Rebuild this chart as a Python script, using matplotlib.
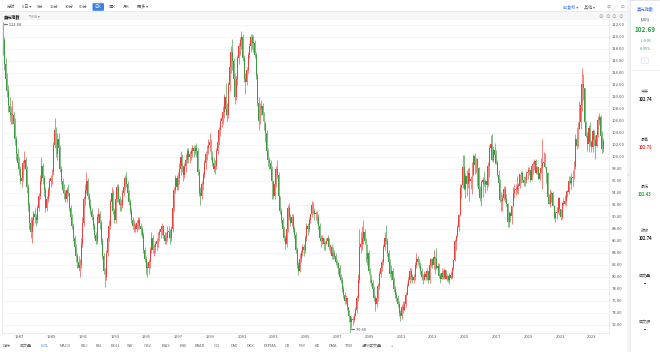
"""US dollar index, monthly candles 1986-2024, styled like a quote page"""

import numpy as np
import matplotlib.pyplot as plt
from matplotlib.patches import Rectangle, FancyBboxPatch

plt.rcParams['font.family'] = ['Noto Sans CJK SC', 'DejaVu Sans']

# Monthly candles. Month index counts from Jan 1986; the first candle is Apr 1986.
first_month = 3
first_open = 121.0

closes = [
    119.5, 115.5, 113, 111, 108.5, 107.5, 107, 107, 105.5,                   # 1986 (Apr-Dec)
    103, 100.5, 99, 98, 96, 96.5, 99, 99.5, 98, 95, 92, 89,                   # 1987
    87.5, 89.5, 90.5, 90, 89.5, 91.5, 93.5, 96, 98.5, 96.5, 94.5, 91.5,       # 1988
    93, 94.5, 96, 96.5, 97.5, 102, 104.5, 100.5, 103, 101.5, 98, 96,          # 1989
    94.5, 94, 93, 94.5, 94, 91.5, 90, 88.5, 86.5, 85, 83.5, 82.5,             # 1990
    81.5, 82, 85.5, 89, 93, 94.5, 96, 93.5, 92, 91, 90, 88.5,                 # 1991
    87, 86, 90, 90.5, 89, 86, 83.5, 81, 80, 84, 86.5, 88.5,                   # 1992
    92.5, 94, 91, 89.5, 93, 95, 93, 92, 92, 94, 95, 96.5,                     # 1993
    95.5, 94, 92.5, 91, 89.5, 88.5, 88.5, 88, 89, 89.5, 88.5, 88,             # 1994
    87, 84.5, 83, 81.5, 81.5, 82.5, 84.5, 86.5, 84.5, 85, 85.5, 86,           # 1995
    87, 87.5, 88, 88.5, 87, 86, 86.5, 87.5, 87.5, 86.5, 88, 91.5,             # 1996
    94.5, 96.5, 95, 96.5, 98, 100, 98.5, 97, 98.5, 99.5, 101, 100,            # 1997
    100.5, 101, 101.5, 101, 101.5, 101, 97.5, 94, 93.5, 95.5, 97, 99,         # 1998
    100.5, 101.5, 102, 102.5, 100, 99, 98, 98.5, 101, 102.5, 104.5, 106,      # 1999
    106.5, 107.5, 110, 108, 107, 112, 115, 117.5, 116, 113, 110, 113,         # 2000
    116.5, 118.5, 119.5, 120, 116.5, 113, 112.5, 114.5, 117, 118.5, 120, 119, # 2001
    119, 117, 113.5, 109, 106, 108, 108.5, 107, 105.5, 104, 101, 99.5,        # 2002
    99, 98, 96, 93.5, 95.5, 98, 97, 93.5, 91, 89.5, 88, 86.5,                 # 2003
    85.5, 88, 91.5, 90, 89, 90, 88, 87, 84.5, 82, 81, 83,                     # 2004
    84, 85, 84.5, 86.5, 88.5, 88, 89.5, 90.5, 92, 91, 90.5, 90.5,             # 2005
    90, 88.5, 86.5, 86, 86.5, 85.5, 85.5, 86, 86.5, 85, 85, 83.5,             # 2006
    84, 83.5, 82.5, 82.3, 81.5, 80, 79.5, 78, 77, 76, 76.5, 75,               # 2007
    73.5, 72.5, 73, 72.8, 73.5, 74.5, 76.5, 79.5, 85, 85.5, 86.5, 87.5,       # 2008
    86, 83, 84, 81, 79.5, 79, 78, 76.5, 75.5, 76.5, 78.5, 80.5,               # 2009
    81.5, 82.5, 85, 86.5, 86, 84, 82.5, 80.5, 81, 79.5, 78, 77,               # 2010
    76.5, 75.5, 74, 73.5, 75, 74.5, 75.5, 77, 78.5, 79.5, 81, 80,             # 2011
    79.5, 80, 82, 83, 82.5, 82, 81, 80, 79.5, 80.5, 80, 81,                   # 2012
    79.5, 82, 83, 82, 83.3, 83, 81.5, 81.8, 80.2, 79.6, 80.7, 80,             # 2013
    81.2, 79.7, 80.1, 79.5, 80.4, 79.8, 81.5, 82.8, 86, 86.9, 88.4, 90.3,     # 2014
    94.8, 95.3, 98.4, 94.6, 96.9, 95.5, 97.3, 96, 96.4, 97, 100.2, 98.7,      # 2015
    99.6, 98.2, 94.6, 93.1, 95.9, 96.1, 95.5, 96, 95.4, 98.5, 101.5, 102.2,   # 2016
    99.5, 101.1, 100.3, 99, 97, 95.6, 92.9, 92.7, 93.1, 94.6, 93, 92.1,       # 2017
    89.1, 90.6, 90.1, 91.8, 94, 94.5, 94.5, 95.1, 95.1, 97.1, 97.3, 96.2,     # 2018
    95.6, 96.2, 97.3, 97.5, 97.8, 96.1, 98.5, 98.9, 99.4, 97.4, 98.3, 96.4,   # 2019
    97.4, 98.1, 99, 99, 98.3, 97.4, 93.3, 92.1, 93.9, 94, 91.9, 89.9,         # 2020
    90.6, 90.9, 93.2, 91.3, 90, 92.4, 92.2, 92.6, 94.2, 94.1, 96, 95.7,       # 2021
    96.5, 96.7, 98.4, 103, 101.8, 104.7, 105.9, 108.7, 112.1, 111.5, 105.9, 103.5,  # 2022
    102.1, 104.9, 102.5, 101.7, 104.3, 102.9, 101.9, 103.6, 106.2, 106.7, 103.5, 101.3,  # 2023
    102.69,                                                                    # 2024 (Jan)
]

highs = [
    122.5, 120, 116.5, 114, 112, 110, 108.5, 109.5, 107.5,
    106.5, 103.5, 101.5, 100, 98.5, 97.5, 99.5, 101, 100, 98.5, 95.5, 92.5,
    90, 90, 91, 91.5, 90.5, 92, 94, 97, 100, 99, 97, 95,
    93.5, 95, 96.5, 97, 98, 102.5, 106.5, 105, 104, 104, 102, 98.5,
    96.5, 95.5, 94.5, 95, 95.5, 94, 92, 90.5, 89, 87, 85.5, 84,
    83.5, 83, 86.5, 90, 93.5, 95.5, 97.5, 96.5, 94, 93, 91.5, 90.5,
    89, 87.5, 90.5, 91.5, 91, 89.5, 86.5, 84, 81.5, 84.5, 87, 89.5,
    93, 95, 94.5, 91.5, 93.5, 95.5, 95.5, 93.5, 93, 94.5, 95.5, 97,
    97.5, 96, 94.5, 93, 91.5, 90, 89.5, 89, 89.5, 90, 90, 89,
    88.5, 87.5, 85, 83.5, 82.5, 83, 85, 87.5, 87, 85.5, 86, 86.5,
    87.5, 88, 88.5, 89, 88.5, 87.5, 87.5, 88.5, 88.5, 88, 88.5, 92,
    95, 97, 97, 97.5, 99, 101, 100.5, 98.5, 99, 100.5, 101.5, 101.5,
    101, 101.5, 102, 102, 102, 102.3, 101.5, 98, 95, 96, 97.5, 99.5,
    101, 102, 103, 104, 103, 101, 100, 99.5, 101.5, 103, 105, 106.5,
    107.5, 108.5, 110.5, 112.3, 109, 112.5, 115.5, 118.5, 119.6, 116.5, 114, 113.5,
    117, 119, 120, 121, 120.5, 117, 114, 115, 117.5, 119, 120.5, 120.5,
    120.3, 119.5, 117.5, 114, 110, 109, 109.5, 109, 107.5, 106, 104.5, 101.5,
    100, 99.5, 98.5, 96, 96, 98.5, 99.5, 97.5, 93.5, 91.5, 90, 88.5,
    87, 88.5, 92, 92.3, 90.5, 90.5, 90.5, 88.5, 87.5, 85, 82.5, 84,
    84.5, 85.5, 85.5, 87, 89, 89, 90, 90.5, 92.6, 92.5, 91.5, 91,
    91, 90.5, 89, 87, 87, 86.5, 86, 86.5, 87, 86.5, 85.5, 85.5,
    85, 84.5, 84, 83, 82.5, 82, 80.5, 80, 78.5, 77.5, 77, 76.5,
    74.5, 73.5, 73.5, 73.5, 74, 75, 77, 80.5, 88, 87.5, 88.5, 89.5,
    88, 86.5, 85.5, 84.5, 81.5, 80.5, 79.5, 78.5, 77, 77.5, 79, 81,
    82, 83, 85.5, 87.5, 88.7, 86.5, 84.5, 83, 82, 81.5, 80, 78.5,
    77.5, 77, 76, 74.5, 75.5, 76, 76, 77.5, 79, 80, 81.5, 81.5,
    80.5, 80.5, 82.5, 84, 83.5, 83, 82.5, 81.5, 80.5, 81, 81, 81.5,
    80.8, 82.3, 83.2, 83.2, 84.5, 83.5, 84.75, 82.4, 82.3, 80.7, 81.5, 81.2,
    81.5, 81.2, 80.5, 80.4, 80.6, 81, 81.6, 82.9, 86.3, 87, 88.6, 90.5,
    95.5, 95.5, 100.4, 100.3, 97.3, 97.8, 98.2, 98.3, 96.8, 99.1, 100.5, 100.6,
    99.9, 99.8, 98.4, 95.1, 96.1, 96.7, 97.6, 96.3, 96, 99.1, 102, 103.6,
    103.8, 101.8, 102.3, 101.1, 99.5, 97.8, 96.4, 94.1, 93.8, 95.2, 95.1, 93.9,
    92.3, 91, 90.9, 91.9, 95, 95.5, 95.5, 96.9, 95.7, 97.2, 97.7, 97.7,
    96.9, 96.9, 97.7, 98.3, 98.4, 97.8, 98.7, 99.4, 99.7, 99.7, 98.5, 98.3,
    98.2, 99.9, 103, 100.9, 100.6, 98.1, 97.5, 93.9, 94.7, 94.3, 94.3, 92,
    91, 91.6, 93.4, 93.4, 91.4, 92.5, 93.2, 93.7, 94.5, 94.5, 96.9, 96.9,
    97.4, 97.8, 99.4, 103.9, 105, 105.8, 109.3, 109.5, 114.8, 113.9, 111.5, 106,
    104.1, 105.4, 105.9, 102.8, 104.7, 104.5, 103.6, 104.4, 106.8, 107.3, 107, 104.3,
    103.1,
]

lows = [
    117, 114.5, 112, 110, 107.5, 106, 105.5, 105.5, 104.5,
    102, 99.5, 98, 97, 95.5, 95, 96, 98, 97, 94, 91, 88,
    86.5, 85.7, 88.5, 89, 88.5, 89, 91, 93, 95.5, 95.5, 93.5, 90.8,
    91, 92.5, 93.5, 95, 95.5, 97, 101.5, 100, 99.5, 100.5, 97.5, 95.5,
    94, 93, 92.5, 92.5, 93.5, 91, 89.5, 88, 86, 84.5, 82.5, 81.5,
    81, 80, 81.5, 85, 88.5, 92, 94, 93, 91.5, 90.5, 89.5, 88,
    86.5, 85.5, 85.5, 89, 88, 85.5, 83, 80.5, 78.3, 79.5, 83.5, 86,
    88, 92, 90.5, 89, 89, 92.5, 92.5, 91, 91, 91.5, 93.5, 94.5,
    95, 93.5, 92, 90.5, 89, 88, 87.5, 87.5, 87.5, 88, 88, 87,
    86.5, 84, 82.5, 80.5, 80, 80.5, 81.5, 84, 84, 83.5, 84, 84.5,
    85, 86, 86.5, 87, 86.5, 85.5, 85.5, 86, 86.5, 85.5, 86, 87.5,
    91, 94, 94.5, 94.5, 95.5, 97, 97.5, 96, 96.5, 97.5, 99, 99,
    99, 99.5, 100, 100, 100.5, 100, 97, 93.5, 92, 93, 94.5, 96.5,
    98, 99.5, 100.5, 101, 99.5, 98.5, 97.5, 97.2, 98, 100.5, 102, 103.5,
    105, 105.5, 106.5, 107, 106, 106.5, 111, 114, 114.5, 112, 108.9, 109.5,
    112, 115.5, 117, 118, 116, 112.5, 110.5, 112, 114, 116.5, 117.5, 118,
    117.5, 116.5, 113, 108.5, 104.5, 105.5, 107, 106, 104.5, 102.5, 100.5, 98.5,
    98, 97, 93, 93, 93, 95, 96.5, 93, 90.5, 89, 87.5, 86,
    84.7, 85, 87.5, 89.5, 88.5, 88.5, 87.5, 86.5, 84, 81.5, 80.4, 80.8,
    82.5, 83.5, 83.5, 84, 86, 87, 87.5, 89, 90, 90.5, 89.5, 89.5,
    89, 88, 86, 85, 85.5, 84.5, 84.5, 85.5, 85.5, 84.5, 84, 83,
    83, 83, 82, 81.5, 80.5, 79.5, 79, 77.5, 76.5, 75.5, 75.5, 74.5,
    72.5, 70.69, 71.5, 72, 72.5, 73.5, 74, 76, 79, 84, 84.5, 85.5,
    85.5, 82.5, 82, 80.5, 79, 78.5, 77.5, 76, 74.3, 75, 76, 78,
    80, 81, 82, 84.5, 85.5, 83.5, 82, 80, 79.5, 79, 77.5, 76.5,
    76, 75, 73.5, 72.7, 73, 74, 74.5, 75, 77, 78.5, 79, 79.5,
    79, 79, 79.5, 81.5, 82, 81.5, 80.5, 79.5, 78.8, 79.5, 79.5, 79.5,
    79, 79, 81.6, 81.5, 81.4, 80.5, 81.4, 80.8, 79.8, 79, 79.6, 79.7,
    79.7, 79.6, 79.3, 79.2, 78.9, 79.7, 79.8, 81.1, 82.7, 84.5, 86.7, 87.6,
    90.2, 93.2, 94.9, 94.5, 93.1, 93.5, 94.9, 92.6, 94.6, 93.8, 96.9, 97.2,
    97.4, 95.2, 94.6, 92.6, 91.9, 93.4, 95.2, 94, 94.5, 95.2, 96.7, 100.5,
    99.4, 99.2, 98.8, 98.8, 96.8, 95.5, 92.5, 91, 91, 92.8, 92.5, 91.9,
    88.4, 88.3, 89.1, 88.9, 91.6, 93.2, 93.7, 94, 93.8, 94.8, 95.7, 95.9,
    95.1, 95.2, 95.7, 96.4, 97, 95.8, 96.2, 97.1, 97.9, 97.1, 97.1, 96.4,
    96.2, 97.3, 94.6, 98.8, 98.1, 95.7, 92.5, 92.1, 91.7, 92.5, 91.8, 89.7,
    89.2, 89.7, 90.6, 90.4, 89.5, 89.7, 91.8, 92, 91.9, 93.3, 93.9, 95.5,
    94.6, 95.1, 96.4, 98, 101.3, 101.6, 104.7, 104.6, 107.7, 109.5, 105.3, 103.4,
    101, 100.8, 101.9, 100.8, 100.8, 101.9, 99.6, 101.7, 103.4, 105.3, 102.5, 100.6,
    100.8,
]

year_ticks = list(range(1987, 2024, 2))
y_ticks = np.arange(72, 123, 2)

W, H = 660, 352
up_color = "#e8413c"
down_color = "#3e9b42"

closes = np.array(closes, dtype=float)
highs = np.array(highs, dtype=float)
lows = np.array(lows, dtype=float)
opens = np.concatenate([[first_open], closes[:-1]])
x = np.arange(len(closes)) + first_month
up = closes >= opens

fig = plt.figure(figsize=(W / 100, H / 100), dpi=100, facecolor="#f3f4f6")


def px_text(px, py, s, **kw):
    fig.text(px / W, 1 - py / H, s, **kw)


def px_rect(x0, y0, x1, y1, **kw):
    fig.patches.append(Rectangle((x0 / W, 1 - y1 / H), (x1 - x0) / W, (y1 - y0) / H,
                                 transform=fig.transFigure, **kw))


# page panels (drawn under the axes)
px_rect(0, 0, 627, 352, facecolor="white", edgecolor="none", zorder=-5)
px_rect(0, 12, 627, 21, facecolor="#f6f7f9", edgecolor="none", zorder=-4)
px_rect(0, 11.5, 627, 12.3, facecolor="#e8eaed", edgecolor="none", zorder=-4)
px_rect(0, 340.5, 627, 341.2, facecolor="#e8eaed", edgecolor="none", zorder=-4)
px_rect(630, 0, 660, 352, facecolor="white", edgecolor="#e2e5e9", linewidth=0.6, zorder=-5)
px_rect(630, 70, 660, 70.6, facecolor="#eceef1", edgecolor="none", zorder=-4)

# candle chart
ax = fig.add_axes([2 / W, (H - 333.4) / H, 607 / W, 313.4 / H])
ax.set_zorder(2)
ax.set_facecolor("white")
for mask, col in [(up, up_color), (~up, down_color)]:
    ax.vlines(x[mask], lows[mask], highs[mask], color=col, linewidth=0.45, zorder=3)
    body = np.maximum(np.abs(closes[mask] - opens[mask]), 0.15)
    ax.bar(x[mask], body, bottom=np.minimum(opens[mask], closes[mask]),
           width=0.72, color=col, linewidth=0, zorder=4)

ax.set_xlim(2.26, 460.4)
ax.set_ylim(70.6, 122.833)
ax.yaxis.tick_right()
ax.set_yticks(y_ticks)
ax.set_yticklabels([f"{v:.2f}" for v in y_ticks], fontsize=3.0, color="#555555")
ax.set_xticks([(yr - 1986) * 12 for yr in year_ticks])
ax.set_xticklabels([str(yr) for yr in year_ticks], fontsize=3.0, color="#555555", ha="left")
ax.tick_params(axis="both", length=0)
ax.tick_params(axis="y", pad=2.2)
ax.tick_params(axis="x", pad=0.8)
ax.grid(axis="y", color="#eef0f3", linewidth=0.5)
ax.set_axisbelow(True)
for side in ["left", "right", "bottom"]:
    ax.spines[side].set_color("#e3e6ea")
    ax.spines[side].set_linewidth(0.5)
ax.spines["top"].set_visible(False)

# max / min markers
i_max = int(np.argmax(highs))
i_min = int(np.argmin(lows))
ax.text(x[i_max] + 0.6, highs[i_max] - 0.45, f"← {highs[i_max]:.2f}", fontsize=2.9,
        color="#444444", va="center", ha="left", clip_on=False, zorder=5)
ax.text(x[i_min] + 0.6, lows[i_min] + 0.55, f"← {lows[i_min]:.2f}", fontsize=2.9,
        color="#444444", va="center", ha="left", clip_on=False, zorder=5)

# top toolbar
tools = ["分时", "5日 ▾", "5分", "15分", "30分", "60分", "日K", "周K", "月K", "更多 ▾"]
tool_x = [11, 27, 40, 54.5, 69, 83, 98, 112, 126.5, 143]
fig.patches.append(FancyBboxPatch((92.5 / W, 1 - 10.8 / H), 11.5 / W, 7.6 / H,
                                  boxstyle="round,pad=0,rounding_size=0.002",
                                  transform=fig.transFigure, facecolor="#3d7fe6",
                                  edgecolor="none", zorder=1))
for name, tx in zip(tools, tool_x):
    px_text(tx, 7, name, fontsize=3.0, ha="center", va="center",
            color="white" if name == "日K" else "#555555")
px_text(571, 7, "前复权 ▾", fontsize=3.0, ha="center", va="center", color="#3d7fe6")
px_text(590, 7, "其他 ▾", fontsize=3.0, ha="center", va="center", color="#666666")
px_text(609, 7, "☰", fontsize=3.2, ha="center", va="center", color="#888888")
px_text(616, 7, "∕", fontsize=3.2, ha="center", va="center", color="#888888")
px_text(622, 7, "⊡", fontsize=3.2, ha="center", va="center", color="#888888")

# second row
px_text(4, 16.5, "美元指數", fontsize=3.0, ha="left", va="center", color="#222222",
        fontweight="bold")
px_text(29, 16.5, "均线 ▾", fontsize=2.9, ha="left", va="center", color="#888888")
for cx, sym in zip([601, 607.5, 614, 620.5], ["⊖", "⊙", "⊙", "⊙"]):
    px_text(cx, 16.5, sym, fontsize=3.3, ha="center", va="center", color="#999999")

# bottom indicator tabs
tabs = ["指标", "成交量", "VOL", "MACD", "KDJ", "RSI", "BOLL", "WR", "OBV", "BIAS", "ENE",
        "BRAR", "CCI", "DMI", "DKX", "EXPMA", "CR", "PSY", "KD", "DMA", "TRIX",
        "虚拟成交量", "+"]
tab_x = [6.5, 26, 45, 65, 84.5, 99, 115.5, 130, 148, 166, 183, 200, 217, 234, 250,
         270, 287.5, 302.5, 317.5, 333, 349.5, 372, 392]
for name, tx in zip(tabs, tab_x):
    px_text(tx, 346, name, fontsize=2.9, ha="center", va="center",
            color="#3d7fe6" if name == "VOL" else "#666666")

# collapse handle
px_text(628.5, 176, "‹", fontsize=3.5, ha="center", va="center", color="#aaaaaa")

# right quote panel
green = "#2e9e44"
red = "#e53935"
px_text(645, 9, "美元指數", fontsize=3.1, ha="center", va="center", color="#3d6fd6")
px_text(645, 19.5, "(UDI)", fontsize=2.6, ha="center", va="center", color="#333333")
px_text(645, 30, "102.69", fontsize=4.6, ha="center", va="center", color=green,
        fontweight="bold")
px_text(645, 40.5, "↓-0.05", fontsize=2.6, ha="center", va="center", color=green)
px_text(645, 48.5, "-0.05%", fontsize=2.6, ha="center", va="center", color=green)
fig.patches.append(FancyBboxPatch((641.5 / W, 1 - 63.5 / H), 7 / W, 5.5 / H,
                                  boxstyle="round,pad=0,rounding_size=0.003",
                                  transform=fig.transFigure, facecolor="white",
                                  edgecolor="#d5d8dc", linewidth=0.4, zorder=1))
px_text(645, 61, "--", fontsize=2.5, ha="center", va="center", color="#555555")

panel_rows = [
    ("今开", "102.74", "#222222", 92),
    ("最高", "102.78", red, 140),
    ("最低", "102.43", green, 186.5),
    ("昨收", "102.74", "#222222", 231.5),
    ("成交量", "--", "#222222", 276.5),
    ("成交額", "--", "#222222", 322),
]
for label, val, col, ty in panel_rows:
    px_text(645, ty, label, fontsize=2.9, ha="center", va="center", color="#444444")
    px_text(645, ty + 7.5, val, fontsize=3.0, ha="center", va="center", color=col,
            fontweight="bold")

plt.savefig("out.png", dpi=100, facecolor=fig.get_facecolor())
